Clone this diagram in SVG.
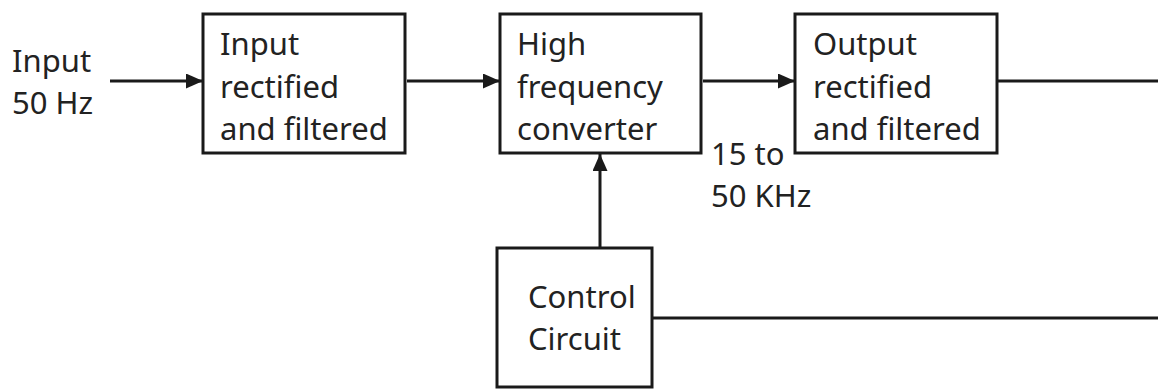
<svg xmlns="http://www.w3.org/2000/svg" width="1158" height="389" viewBox="0 0 1158 389">
<style>
.box{fill:#fff;stroke:#1a1a1a;stroke-width:3}
.ln{stroke:#1a1a1a;stroke-width:3;fill:none}
text{font-family:"Noto Sans","Open Sans",sans-serif;font-size:31px;fill:#222}
</style>
<defs>
<marker id="ah" markerWidth="17" markerHeight="15" refX="17" refY="7.5" orient="auto" markerUnits="userSpaceOnUse">
<path d="M0,0 L17,7.5 L0,15 Z" fill="#1a1a1a"/>
</marker>
</defs>
<rect width="1158" height="389" fill="#fff"/>
<g id="connectors">
<line class="ln" x1="110" y1="81" x2="203" y2="81" marker-end="url(#ah)"/>
<line class="ln" x1="407" y1="81" x2="500" y2="81" marker-end="url(#ah)"/>
<line class="ln" x1="703" y1="81" x2="795" y2="81" marker-end="url(#ah)"/>
<line class="ln" x1="997" y1="81" x2="1158" y2="81"/>
<line class="ln" x1="600" y1="248" x2="600" y2="154" marker-end="url(#ah)"/>
<line class="ln" x1="652" y1="318" x2="1158" y2="318"/>
</g>
<g id="input-label">
<text x="12" y="72">Input</text>
<text x="12" y="114">50 Hz</text>
</g>
<g id="input-rectifier">
<rect class="box" x="203" y="14" width="202" height="139"/>
<text x="220" y="55">Input</text>
<text x="220" y="98">rectified</text>
<text x="220" y="140">and filtered</text>
</g>
<g id="hf-converter">
<rect class="box" x="500" y="14" width="201" height="139"/>
<text x="517" y="55">High</text>
<text x="517" y="98">frequency</text>
<text x="517" y="140">converter</text>
</g>
<g id="freq-label">
<text x="711" y="165">15 to</text>
<text x="711" y="207">50 KHz</text>
</g>
<g id="output-rectifier">
<rect class="box" x="795" y="14" width="202" height="139"/>
<text x="813" y="55">Output</text>
<text x="813" y="98">rectified</text>
<text x="813" y="140">and filtered</text>
</g>
<g id="control-circuit">
<rect class="box" x="497" y="248" width="155" height="139"/>
<text x="528" y="308">Control</text>
<text x="528" y="350">Circuit</text>
</g>
</svg>
